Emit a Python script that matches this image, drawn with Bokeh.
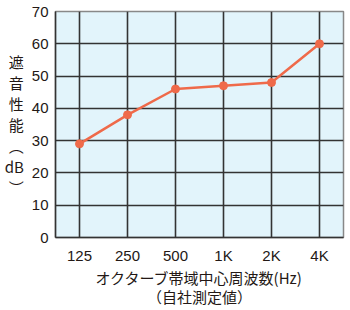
from bokeh.plotting import figure
from bokeh.models import Range1d, FixedTicker
from bokeh.embed import file_html
from bokeh.resources import INLINE

freqs = ["125", "250", "500", "1K", "2K", "4K"]
db_values = [29, 38, 46, 47, 48, 60]
y_ticks = [0, 10, 20, 30, 40, 50, 60, 70]
x_title = "オクターブ帯域中心周波数(Hz)"
x_note = "（自社測定値）"
y_title_chars = ["遮", "音", "性", "能", "︵", "dB", "︶"]

LINE = "#ef6a4a"
TXT = "#231815"

xpos = [i + 0.5 for i in range(len(freqs))]

p = figure(x_range=Range1d(0, len(freqs)), y_range=Range1d(0, 70),
           frame_width=288, frame_height=226,
           min_border_left=55, min_border_right=7, min_border_top=11, min_border_bottom=73,
           output_backend="svg", toolbar_location=None,
           border_fill_color="white")
p.background_fill_color = "#e2f4fb"
p.outline_line_color = "#888888"
p.outline_line_width = 1.5

p.xaxis.ticker = FixedTicker(ticks=xpos)
p.xaxis.major_label_overrides = {x: f for x, f in zip(xpos, freqs)}
p.yaxis.ticker = FixedTicker(ticks=y_ticks)
for ax in (p.xaxis[0], p.yaxis[0]):
    ax.axis_line_color = "#333333"
    ax.axis_line_width = 1.5
    ax.major_tick_line_color = None
    ax.major_tick_out = 0
    ax.major_tick_in = 0
    ax.minor_tick_line_color = None
    ax.minor_tick_out = 0
    ax.minor_tick_in = 0
    ax.major_label_text_font = "Liberation Sans"
    ax.major_label_text_font_size = "15px"
    ax.major_label_text_color = TXT
    ax.axis_label_text_font = "Noto Sans CJK JP"
    ax.axis_label_text_font_size = "15px"
    ax.axis_label_text_font_style = "normal"
    ax.axis_label_text_color = TXT
p.yaxis.major_label_standoff = 7
p.xaxis.major_label_standoff = 9

p.xaxis.axis_label = x_title + "\n" + x_note
p.xaxis.axis_label_standoff = 0
p.xaxis.axis_label_text_align = "center"
p.xaxis.axis_label_text_line_height = 0.92
p.yaxis.axis_label = "\n".join(y_title_chars)
p.yaxis.axis_label_orientation = "horizontal"
p.yaxis.axis_label_standoff = 5
p.yaxis.axis_label_text_align = "center"
p.yaxis.axis_label_text_line_height = 1.0

p.xgrid.grid_line_color = "#333333"
p.xgrid.grid_line_width = 1.6
p.ygrid.grid_line_color = "#333333"
p.ygrid.grid_line_width = 1.6

p.line(xpos, db_values, line_color=LINE, line_width=2.5)
p.scatter(xpos, db_values, size=8, fill_color=LINE, line_color=LINE)

open("out.html", "w").write(file_html(p, INLINE))
